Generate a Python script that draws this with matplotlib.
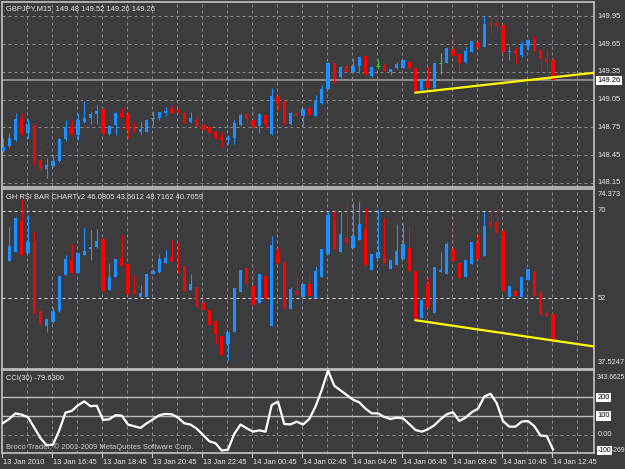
import matplotlib
matplotlib.use("Agg")
import matplotlib.pyplot as plt
import numpy as np

# GBPJPY M15, 13 Jan 2010 14:45 .. 14 Jan 12:45
price_open = [148.50, 148.55, 148.61, 148.84, 148.69, 148.78, 148.40, 148.30, 148.33, 148.39,
              148.62, 148.75, 148.67, 148.81, 148.85, 148.89, 148.95, 148.68, 148.78, 148.91,
              148.88, 148.74, 148.70, 148.70, 148.84, 148.85, 148.91, 148.95, 148.93, 148.91,
              148.81, 148.84, 148.78, 148.75, 148.70, 148.65, 148.61, 148.64, 148.78, 148.89,
              148.83, 148.76, 148.88, 148.68, 149.08, 149.04, 148.79, 148.90, 148.87, 148.96,
              148.87, 149.01, 149.16, 149.45, 149.29, 149.41, 149.35, 149.41, 149.52, 149.30,
              149.41, 149.42, 149.35, 149.39, 149.39, 149.46, 149.39, 149.15, 149.24, 149.17,
              149.44, 149.44, 149.60, 149.54, 149.46, 149.56, 149.66, 149.62, 149.88, 149.88,
              149.86, 149.56, 149.58, 149.53, 149.63, 149.69, 149.59, 149.49, 149.48]
price_high = [148.63, 148.69, 148.91, 148.90, 148.84, 148.79, 148.51, 148.42, 148.45, 148.63,
              148.83, 148.83, 148.90, 149.04, 148.92, 148.99, 148.96, 148.78, 148.92, 148.96,
              148.92, 148.81, 148.81, 148.84, 148.93, 148.92, 148.97, 148.99, 148.96, 148.92,
              148.92, 148.88, 148.79, 148.76, 148.71, 148.70, 148.67, 148.83, 148.91, 148.92,
              148.98, 148.90, 148.88, 149.17, 149.10, 149.05, 148.92, 148.98, 148.96, 148.99,
              149.10, 149.21, 149.46, 149.46, 149.41, 149.44, 149.50, 149.51, 149.52, 149.41,
              149.49, 149.43, 149.38, 149.46, 149.48, 149.48, 149.39, 149.27, 149.41, 149.45,
              149.55, 149.61, 149.75, 149.54, 149.62, 149.68, 149.68, 149.95, 149.95, 149.97,
              149.86, 149.63, 149.62, 149.68, 149.70, 149.74, 149.60, 149.59, 149.52]
price_low = [148.48, 148.53, 148.60, 148.67, 148.62, 148.34, 148.27, 148.20, 148.32, 148.38,
             148.60, 148.67, 148.61, 148.80, 148.79, 148.79, 148.67, 148.67, 148.67, 148.85,
             148.63, 148.70, 148.67, 148.70, 148.78, 148.83, 148.87, 148.91, 148.90, 148.80,
             148.80, 148.74, 148.71, 148.62, 148.62, 148.54, 148.57, 148.57, 148.76, 148.76,
             148.72, 148.69, 148.74, 148.67, 148.94, 148.79, 148.78, 148.86, 148.76, 148.88,
             148.87, 149.00, 149.16, 149.23, 149.28, 149.35, 149.34, 149.34, 149.32, 149.29,
             149.38, 149.36, 149.32, 149.38, 149.39, 149.38, 149.13, 149.14, 149.17, 149.16,
             149.33, 149.44, 149.52, 149.36, 149.45, 149.56, 149.60, 149.62, 149.77, 149.78,
             149.51, 149.48, 149.45, 149.51, 149.59, 149.57, 149.36, 149.37, 149.26]
price_close = [148.54, 148.63, 148.84, 148.69, 148.79, 148.38, 148.30, 148.34, 148.39, 148.62,
               148.75, 148.68, 148.83, 148.85, 148.89, 148.93, 148.68, 148.77, 148.90, 148.86,
               148.72, 148.71, 148.73, 148.83, 148.85, 148.92, 148.93, 148.91, 148.92, 148.80,
               148.85, 148.75, 148.72, 148.69, 148.63, 148.61, 148.64, 148.80, 148.88, 148.84,
               148.75, 148.89, 148.79, 149.09, 149.01, 148.80, 148.91, 148.87, 148.95, 148.88,
               149.03, 149.16, 149.44, 149.28, 149.40, 149.35, 149.41, 149.51, 149.33, 149.40,
               149.41, 149.36, 149.38, 149.43, 149.48, 149.39, 149.14, 149.26, 149.18, 149.45,
               149.44, 149.61, 149.52, 149.45, 149.57, 149.68, 149.62, 149.87, 149.86, 149.84,
               149.56, 149.58, 149.55, 149.65, 149.69, 149.57, 149.49, 149.46, 149.26]

nan = np.nan
rsi_open = [nan, 59.7, 61.5, 67.9, 61.4, 63.6, 49.3, 46.4, 47.2, 49.3,
            56.8, 59.9, 57.1, 60.9, 62.2, 62.6, 64.2, 53.8, 56.4, 60.2,
            59.0, 53.5, 52.3, 52.3, 56.9, 57.5, 59.2, 60.4, 59.9, 58.7,
            53.8, 54.3, 51.0, 49.5, 47.4, 44.3, 42.6, 45.1, 53.4, 58.2,
            54.6, 51.1, 56.6, 46.4, 61.4, 59.5, 49.9, 53.6, 52.2, 54.9,
            52.0, 56.3, 61.1, 68.0, 61.6, 64.3, 62.3, 64.0, 66.2, 57.8,
            60.2, 60.7, 58.0, 58.8, 60.0, 62.4, 57.7, 48.0, 55.0, 49.0,
            57.4, 57.0, 62.2, 59.2, 56.3, 59.0, 63.3, 60.7, 67.6, 67.6,
            65.9, 52.2, 53.6, 52.2, 55.8, 57.7, 53.3, 49.0, 48.7]
rsi_high = [nan, 66.7, 68.8, 72.3, 69.1, 65.7, 49.3, 47.8, 50.3, 56.6,
            60.9, 63.2, 61.4, 66.6, 66.0, 66.2, 64.2, 59.3, 60.0, 65.0,
            59.0, 56.8, 54.7, 56.9, 58.0, 61.2, 62.1, 64.0, 63.3, 58.7,
            57.0, 54.3, 52.3, 49.5, 47.4, 44.3, 45.1, 54.1, 57.8, 58.2,
            59.1, 56.9, 56.6, 64.7, 62.5, 59.5, 54.3, 56.8, 54.9, 57.1,
            58.6, 62.1, 70.0, 70.0, 69.8, 71.5, 71.7, 71.9, 70.5, 61.2,
            70.1, 68.4, 59.9, 67.3, 67.4, 67.0, 57.7, 51.6, 56.1, 58.4,
            61.6, 63.6, 68.8, 59.2, 59.9, 63.5, 65.3, 69.8, 70.4, 70.7,
            65.9, 54.5, 53.6, 56.3, 58.1, 57.7, 53.3, 49.9, 48.7]
rsi_low = [nan, 59.7, 61.5, 61.0, 61.4, 48.8, 46.6, 45.0, 46.9, 49.2,
           56.8, 57.3, 57.1, 60.9, 59.9, 62.3, 53.6, 53.8, 56.4, 58.6,
           52.9, 52.9, 52.3, 52.3, 56.9, 57.1, 59.2, 59.7, 57.3, 53.5,
           53.8, 50.3, 49.7, 46.5, 42.7, 40.4, 39.3, 45.1, 53.4, 54.4,
           50.6, 51.0, 51.9, 46.4, 59.3, 50.1, 49.9, 52.7, 52.2, 52.5,
           52.0, 56.3, 61.1, 62.1, 61.6, 63.4, 62.3, 64.0, 58.8, 57.8,
           60.2, 59.3, 58.0, 58.8, 60.0, 57.6, 47.7, 48.0, 50.0, 49.0,
           57.4, 57.0, 59.7, 56.1, 56.3, 59.0, 60.1, 60.7, 66.7, 65.4,
           53.6, 52.2, 52.4, 52.2, 55.8, 52.5, 48.5, 48.3, 43.1]
rsi_close = [nan, 62.8, 68.4, 61.0, 63.6, 48.8, 46.6, 47.8, 49.3, 56.6,
             60.0, 57.3, 61.4, 61.8, 62.6, 63.8, 53.6, 56.4, 60.0, 58.6,
             52.9, 52.9, 53.0, 56.9, 57.6, 60.0, 60.2, 59.7, 59.7, 53.5,
             54.9, 50.3, 49.7, 46.5, 44.7, 40.4, 45.1, 54.1, 57.8, 55.1,
             50.6, 56.9, 51.9, 63.0, 59.3, 50.1, 54.0, 52.7, 54.9, 52.5,
             57.6, 62.1, 69.1, 62.1, 65.2, 63.4, 64.8, 67.3, 58.8, 61.2,
             61.6, 59.3, 59.9, 61.7, 63.2, 57.6, 47.7, 51.6, 50.0, 58.4,
             57.9, 63.1, 59.7, 56.1, 59.9, 63.5, 60.1, 66.9, 66.7, 65.4,
             53.6, 54.5, 52.4, 56.3, 58.1, 52.5, 48.5, 48.3, 43.1]
rsi_values_text = ["46.0805", "43.6612", "48.7162", "40.7659"]
rsi_levels = [70, 52]
rsi_min, rsi_max = 37.5247, 74.373

cci = [62, 84, 114, 107, 93, 38, -19, -57, -53, 23,
       118, 127, 157, 178, 152, 155, 79, 82, 104, 102,
       54, 45, 36, 61, 82, 104, 111, 109, 91, 61,
       54, 32, -1, -35, -46, -85, -80, 4, 54, 34,
       16, 23, 16, 159, 177, 57, 55, 70, 54, 84,
       150, 239, 343, 262, 237, 212, 187, 173, 139, 114,
       114, 95, 84, 91, 87, 57, 25, 16, 29, 50,
       82, 109, 120, 73, 91, 120, 139, 203, 219, 168,
       73, 43, 43, 70, 73, 46, -5, -7, -79.63]
cci_levels = [200, 100]
cci_max, cci_min = 343.6625, -98

price_ticks = [149.95, 149.65, 149.35, 149.05, 148.75, 148.45, 148.15]
price_min, price_max = 148.106, 150.104
last_price = 149.26

time_labels = ["13 Jan 2010", "13 Jan 16:45", "13 Jan 18:45", "13 Jan 20:45",
               "13 Jan 22:45", "14 Jan 00:45", "14 Jan 02:45", "14 Jan 04:45",
               "14 Jan 06:45", "14 Jan 08:45", "14 Jan 10:45", "14 Jan 12:45"]
bars_per_label = 8

# user drawn trend lines (bar index, value)
trend_price_x, trend_price_y = [66, 94.6], [149.125, 149.34]
trend_rsi_x, trend_rsi_y = [66, 94.6], [47.5, 42.1]

BG = '#3c3c3f'
FRAME = '#c4c4c4'
GRID = '#8a8a8a'
TXT = '#e8e8e8'
UP = '#1e90ff'
DN = '#ff0000'
DOJI = '#32cd32'
FONT = 'Liberation Sans'
FS = 5.4

W, H = 625, 469
fig = plt.figure(figsize=(W / 100, H / 100), dpi=100, facecolor=BG)
n = len(price_close)
x = np.arange(n)


def px_axes(x0, y0, x1, y1):
    ax = fig.add_axes([x0 / W, 1 - y1 / H, (x1 - x0) / W, (y1 - y0) / H])
    ax.set_facecolor(BG)
    for s in ax.spines.values():
        s.set_color(FRAME)
        s.set_linewidth(1.2)
    ax.set_xticks([])
    ax.set_yticks([])
    ax.set_xlim(-0.16, 94.56)
    return ax


def vgrid(ax):
    for g in np.arange(4, 95, 4) - 0.16:
        ax.axvline(g, color=GRID, lw=0.72, ls=(0, (3, 3)), zorder=0)


def candles(ax, o, h, l, c):
    for i in range(len(o)):
        if np.isnan(o[i]):
            continue
        if c[i] > o[i]:
            col = UP
        elif c[i] < o[i]:
            col = DN
        else:
            col = DOJI
        ax.vlines(i, l[i], h[i], color=col, lw=0.8, zorder=3)
        if col == DOJI:
            ax.hlines(c[i], i - 0.3, i + 0.3, color=col, lw=0.8, zorder=3)
        else:
            ax.bar(i, abs(c[i] - o[i]), bottom=min(o[i], c[i]), width=0.5,
                   color=col, lw=0, zorder=3)


def right_label(ax, y, s, box=False, fs=FS, dx=0.006):
    kw = dict(transform=ax.get_yaxis_transform(), fontsize=fs, family=FONT,
              va='center', ha='left', color=TXT, clip_on=False)
    if box:
        kw.update(color='black', bbox=dict(boxstyle='square,pad=0.15', fc='white', ec='none'))
    ax.text(1 + dx, y, s, **kw)


# ---- price panel ----
ax_p = px_axes(2, 2, 594, 187)
ax_p.set_ylim(price_min, price_max)
vgrid(ax_p)
for p in price_ticks:
    ax_p.axhline(p, color=GRID, lw=0.72, ls=(0, (3, 3)), zorder=0)
    right_label(ax_p, p, '%.2f' % p)
ax_p.axhline(last_price, color='#9a9a9a', lw=1.2, zorder=1)
candles(ax_p, price_open, price_high, price_low, price_close)
ax_p.plot(trend_price_x, trend_price_y, color='#ffff00', lw=1.6, zorder=4)
right_label(ax_p, last_price, '%.2f' % last_price, box=True)
ax_p.text(0.006, 0.965, 'GBPJPY,M15  %.2f %.2f %.2f %.2f' % (price_open[-1], price_high[-1],
          price_low[-1], price_close[-1]), transform=ax_p.transAxes, fontsize=FS,
          family=FONT, color=TXT, va='center', ha='left')

# ---- RSI bar panel ----
ax_r = px_axes(2, 189.4, 594, 368.8)
ax_r.set_ylim(rsi_min, rsi_max)
vgrid(ax_r)
for lv in rsi_levels:
    ax_r.axhline(lv, color='#dcdcdc', lw=0.72, ls=(0, (3, 3)), zorder=1)
    right_label(ax_r, lv, str(lv))
right_label(ax_r, rsi_max - 1.1, '%.3f' % rsi_max)
right_label(ax_r, rsi_min + 1.2, '%.4f' % rsi_min)
candles(ax_r, rsi_open, rsi_high, rsi_low, rsi_close)
ax_r.plot(trend_rsi_x, trend_rsi_y, color='#ffff00', lw=1.6, zorder=4)
ax_r.text(0.006, 0.955, 'GH RSI BAR CHARTv2 ' + ' '.join(rsi_values_text),
          transform=ax_r.transAxes, fontsize=FS, family=FONT, color=TXT,
          va='center', ha='left')

# ---- CCI panel ----
ax_c = px_axes(2, 370.4, 594, 453)
ax_c.set_ylim(cci_min, cci_max)
vgrid(ax_c)
ax_c.axhline(0, color=GRID, lw=0.72, ls=(0, (3, 3)), zorder=0)
for lv in cci_levels:
    ax_c.axhline(lv, color='#bdbdbd', lw=1.0, zorder=1)
    right_label(ax_c, lv, str(lv), box=True)
right_label(ax_c, 0, '0.00')
right_label(ax_c, cci_max - 38, '%.4f' % cci_max, fs=4.9, dx=0.004)
right_label(ax_c, cci_min + 11, '-100', box=True, fs=4.9)
ax_c.text(1.03, cci_min + 11, '-269', transform=ax_c.get_yaxis_transform(),
          fontsize=4.9, family=FONT, color=TXT, va='center', ha='left', clip_on=False)
ax_c.plot(x, cci, color='white', lw=1.6, zorder=3, solid_joinstyle='round')
ax_c.text(0.006, 0.9, 'CCI(30) %.4f' % cci[-1], transform=ax_c.transAxes,
          fontsize=FS, family=FONT, color=TXT, va='center', ha='left')
ax_c.text(0.006, 0.065, 'Broco Trader, \u00a9 2001-2009 MetaQuotes Software Corp.',
          transform=ax_c.transAxes, fontsize=FS, family=FONT, color='#d0d0d0',
          va='center', ha='left')

# time axis
xt = ax_c.get_xaxis_transform()
for k, lab in enumerate(time_labels):
    xi = k * bars_per_label - 0.16
    ax_c.plot([xi, xi], [0, -0.05], color=FRAME, lw=0.8, transform=xt, clip_on=False)
    ax_c.text(xi + 0.1, -0.115, lab, transform=xt, fontsize=FS, family=FONT,
              color=TXT, va='center', ha='left', clip_on=False)

fig.savefig('out.png', dpi=100, facecolor=BG)
